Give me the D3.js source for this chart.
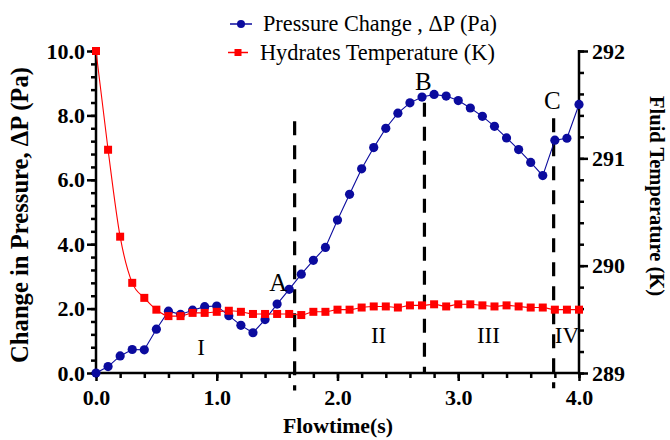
<!DOCTYPE html>
<html><head><meta charset="utf-8">
<script src="https://cdn.jsdelivr.net/npm/d3@7/dist/d3.min.js"></script>
<style>body{margin:0;background:#fff}svg{display:block}
svg text{font-family:"Liberation Serif","Times New Roman",Times,"DejaVu Serif";}
</style>
</head><body><svg id="c" width="670" height="440"></svg>
<script>
const flowtime = [0.0,0.1,0.2,0.3,0.4,0.5,0.6,0.7,0.8,0.9,1.0,1.1,1.2,1.3,1.4,1.5,1.6,1.7,1.8,1.9,2.0,2.1,2.2,2.3,2.4,2.5,2.6,2.7,2.8,2.9,3.0,3.1,3.2,3.3,3.4,3.5,3.6,3.7,3.8,3.9,4.0];
const pressureChange = [0.0,0.2,0.53,0.73,0.72,1.36,1.92,1.82,1.95,2.06,2.08,1.78,1.48,1.25,1.66,2.14,2.6,3.07,3.5,3.9,4.75,5.55,6.34,7.0,7.6,8.07,8.39,8.57,8.65,8.6,8.46,8.23,7.97,7.66,7.3,6.94,6.54,6.13,7.23,7.29,8.34];
const hydrateTemp = [292.0,291.08,290.27,289.84,289.70,289.59,289.53,289.53,289.56,289.56,289.57,289.58,289.57,289.55,289.55,289.55,289.55,289.54,289.57,289.57,289.59,289.59,289.61,289.62,289.62,289.61,289.63,289.63,289.64,289.62,289.64,289.64,289.63,289.62,289.63,289.62,289.61,289.61,289.59,289.59,289.59];
const xTicks = [0,1,2,3,4];
const xTickLabels = ["0.0","1.0","2.0","3.0","4.0"];
const yLeftTicks = [0,2,4,6,8,10];
const yLeftTickLabels = ["0.0","2.0","4.0","6.0","8.0","10.0"];
const yRightTicks = [289,290,291,292];
const yRightTickLabels = ["289","290","291","292"];
const seriesNames = ["Pressure Change , \u0394P (Pa)","Hydrates Temperature (K)"];
// dashed dividers: x, top (pressure units), bottom (pressure units)
const dividerX = [1.645, 2.72, 3.79];
const dividerTop = [7.82, 8.39, 7.91];
const dividerBottom = [-0.54, 0.0, -0.47];
// point labels (x flowtime, y pressure units)
const pointLabels = ["A","B","C"];
const pointLabelX = [1.51, 2.71, 3.78];
const pointLabelY = [2.56, 8.78, 8.2];
const regionLabels = ["I","II","III","IV"];
const regionLabelX = [0.87, 2.34, 3.25, 3.90];
const regionLabelY = [0.55, 0.92, 0.92, 0.92];

const svg = d3.select("#c");
const L=96, R=579, T=51, B=373;
const x = d3.scaleLinear([0,4],[L,R]);
const yL = d3.scaleLinear([0,10],[B,T]);
const yR = d3.scaleLinear([289,292],[B,T]);
const blue = "#0b0b9e", red = "#ff0000";

function fit(sel, target){
  const fs = +sel.attr("font-size");
  const w = sel.node().getComputedTextLength();
  if (w>0) sel.attr("font-size", (fs*target/w).toFixed(2));
  return sel;
}
function styleAxis(g){
  g.select(".domain").remove();
  g.selectAll("line").attr("stroke","#000").attr("stroke-width",2.5);
  g.selectAll("text").attr("font-family",null).attr("font-weight","bold").attr("font-size",22).attr("fill","#000");
}
// minor ticks
svg.append("g").attr("transform",`translate(${L},0)`)
  .call(d3.axisLeft(yL).tickValues(d3.range(0,10.01,0.4)).tickSize(5).tickFormat(""))
  .call(styleAxis);
svg.append("g").attr("transform",`translate(${R},0)`)
  .call(d3.axisRight(yR).tickValues(d3.range(289,292.01,0.2)).tickSize(5).tickFormat(""))
  .call(styleAxis);
svg.append("g").attr("transform",`translate(0,${B})`)
  .call(d3.axisBottom(x).tickValues(d3.range(0,4.01,0.2)).tickSize(5).tickFormat(""))
  .call(styleAxis);
// major ticks
svg.append("g").attr("transform",`translate(${L},0)`)
  .call(d3.axisLeft(yL).tickValues(yLeftTicks).tickSize(9).tickPadding(2).tickFormat((d,i)=>yLeftTickLabels[i]))
  .call(styleAxis);
svg.append("g").attr("transform",`translate(${R},0)`)
  .call(d3.axisRight(yR).tickValues(yRightTicks).tickSize(9).tickPadding(4).tickFormat((d,i)=>yRightTickLabels[i]))
  .call(styleAxis);
svg.append("g").attr("transform",`translate(0,${B})`)
  .call(d3.axisBottom(x).tickValues(xTicks).tickSize(8).tickPadding(8).tickFormat((d,i)=>xTickLabels[i]))
  .call(styleAxis);
// axis lines
svg.append("line").attr("x1",L).attr("x2",L).attr("y1",T-1).attr("y2",B+1.2).attr("stroke","#000").attr("stroke-width",2.5);
svg.append("line").attr("x1",R).attr("x2",R).attr("y1",T-1).attr("y2",B+1.2).attr("stroke","#000").attr("stroke-width",2.5);
svg.append("line").attr("x1",L-1).attr("x2",R+1).attr("y1",B).attr("y2",B).attr("stroke","#000").attr("stroke-width",2.5);

// axis titles
fit(svg.append("text").attr("transform",`translate(28,215) rotate(-90)`).attr("text-anchor","middle")
  .attr("font-weight","bold").attr("font-size",22).text("Change in Pressure, \u0394P (Pa)"), 296);
fit(svg.append("text").attr("transform",`translate(650,196) rotate(90)`).attr("text-anchor","middle")
  .attr("font-weight","bold").attr("font-size",20).text("Fluid Temperature (K)"), 200);
fit(svg.append("text").attr("x",338).attr("y",433).attr("text-anchor","middle")
  .attr("font-weight","bold").attr("font-size",22).text("Flowtime(s)"), 110);

// dashed dividers
svg.append("g").selectAll("line").data(dividerX).join("line")
  .attr("x1",d=>x(d)).attr("x2",d=>x(d))
  .attr("y1",(d,i)=>yL(dividerTop[i])).attr("y2",(d,i)=>yL(dividerBottom[i]))
  .attr("stroke","#000").attr("stroke-width",3.2).attr("stroke-dasharray","14,10");

// blue series
const bluePts = flowtime.map((t,i)=>[t,pressureChange[i]]);
svg.append("path").datum(bluePts).attr("fill","none").attr("stroke",blue).attr("stroke-width",1.1)
  .attr("d",d3.line().x(d=>x(d[0])).y(d=>yL(d[1])));
svg.append("g").selectAll("circle").data(bluePts).join("circle")
  .attr("cx",d=>x(d[0])).attr("cy",d=>yL(d[1])).attr("r",4.6).attr("fill",blue);

// red series
const redPts = flowtime.map((t,i)=>[t,hydrateTemp[i]]);
svg.append("path").datum(redPts).attr("fill","none").attr("stroke",red).attr("stroke-width",1.1)
  .attr("d",d3.line().curve(d3.curveMonotoneX).x(d=>x(d[0])).y(d=>yR(d[1])));
const s=8;
svg.append("g").selectAll("rect").data(redPts).join("rect")
  .attr("x",d=>x(d[0])-s/2).attr("y",d=>yR(d[1])-s/2).attr("width",s).attr("height",s).attr("fill",red);

// labels
svg.append("g").selectAll("text").data(pointLabels).join("text")
  .attr("x",(d,i)=>x(pointLabelX[i])).attr("y",(d,i)=>yL(pointLabelY[i])).attr("text-anchor","middle")
  .attr("font-size",25).text(d=>d);
svg.append("g").selectAll("text").data(regionLabels).join("text")
  .attr("x",(d,i)=>x(regionLabelX[i])).attr("y",(d,i)=>yL(regionLabelY[i])).attr("text-anchor","middle")
  .attr("font-size",23).text(d=>d);

// legend
const lg = svg.append("g");
lg.append("line").attr("x1",230).attr("x2",252).attr("y1",24).attr("y2",24).attr("stroke",blue).attr("stroke-width",1.5);
lg.append("circle").attr("cx",241).attr("cy",24).attr("r",4).attr("fill",blue);
fit(lg.append("text").attr("x",263).attr("y",31).attr("font-size",21).text(seriesNames[0]), 234);
lg.append("line").attr("x1",228).attr("x2",248).attr("y1",52.5).attr("y2",52.5).attr("stroke",red).attr("stroke-width",1.5);
lg.append("rect").attr("x",234.5).attr("y",49).attr("width",7).attr("height",7).attr("fill",red);
fit(lg.append("text").attr("x",260).attr("y",60).attr("font-size",21).text(seriesNames[1]), 235);
</script></body></html>
